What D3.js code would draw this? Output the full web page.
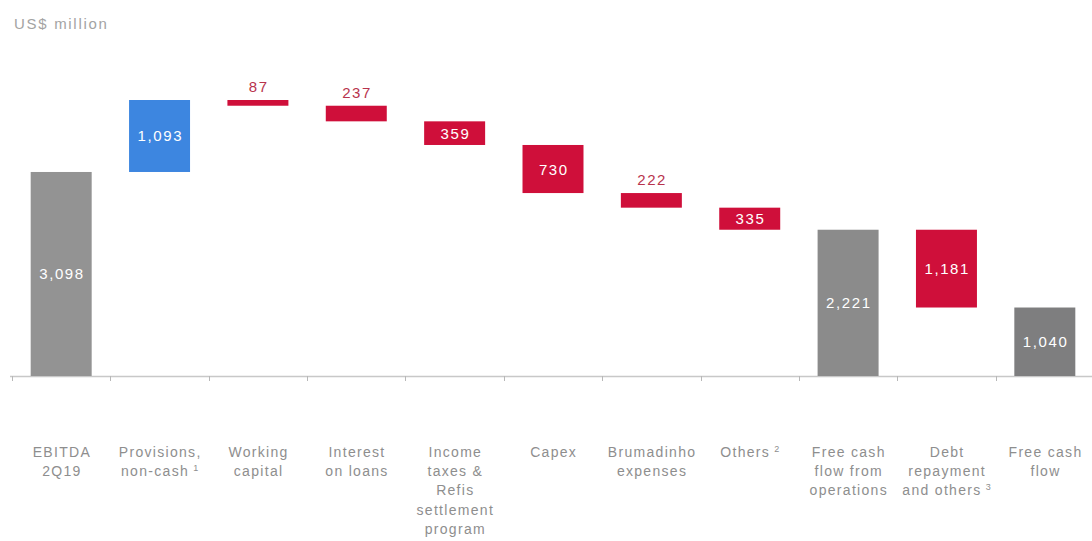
<!DOCTYPE html>
<html>
<head>
<meta charset="utf-8">
<script src="https://cdn.jsdelivr.net/npm/d3@7"></script>
<style>
  html, body { margin: 0; padding: 0; background: #fff; }
  svg { display: block; font-family: "Liberation Sans", Arial, sans-serif; }
</style>
</head>
<body>
<svg id="chart" width="1092" height="541"></svg>
<script>
// Cash flow bridge, US$ million
const categories = [
  ["EBITDA", "2Q19"],
  ["Provisions,", "non-cash|1"],
  ["Working", "capital"],
  ["Interest", "on loans"],
  ["Income", "taxes &", "Refis", "settlement", "program"],
  ["Capex"],
  ["Brumadinho", "expenses"],
  ["Others|2"],
  ["Free cash", "flow from", "operations"],
  ["Debt", "repayment", "and others|3"],
  ["Free cash", "flow"]
];
// kind: total = bar from zero, up = increase, down = decrease
const kinds  = ["total", "up", "down", "down", "down", "down", "down", "down", "total", "down", "total"];
const values = [3098, 1093, 87, 237, 359, 730, 222, 335, 2221, 1181, 1040];
const unitLabel = "US$ million";

const colors = { up: "#3d86e0", down: "#cf0f3a" };
const totalColors = ["#939393", "#8b8b8b", "#7e7e7f"];

const svg = d3.select("#chart");
const width = 1092;
const axisY = 376;

const x = d3.scaleBand()
  .domain(d3.range(categories.length))
  .range([12, 1094])
  .paddingInner(0.38)
  .paddingOuter(0.19);

const y = d3.scaleLinear().domain([0, 4191]).range([axisY, 100]);

// running totals to position each floating bar
let run = 0, totalIdx = 0;
const bars = values.map((v, i) => {
  let lo, hi, fill;
  if (kinds[i] === "total") {
    lo = 0; hi = v; run = v; fill = totalColors[totalIdx++];
  } else if (kinds[i] === "up") {
    lo = run; hi = run + v; run = hi; fill = colors.up;
  } else {
    hi = run; lo = run - v; run = lo; fill = colors.down;
  }
  return { i, v, lo, hi, fill };
});

svg.append("text")
  .attr("x", 14).attr("y", 29)
  .attr("fill", "#a3a3a3")
  .attr("font-size", 15)
  .attr("letter-spacing", 1.7)
  .text(unitLabel);

// baseline axis with separators between categories
const step = x.step();
const x0 = x.range()[0];
const tickXs = d3.range(categories.length + 1).map(k => x0 + k * step);
svg.append("line")
  .attr("x1", 10).attr("x2", width)
  .attr("y1", axisY + 0.5).attr("y2", axisY + 0.5)
  .attr("stroke", "#c8c8c8").attr("stroke-width", 1.5);
svg.selectAll("line.tick").data(tickXs).join("line")
  .attr("class", "tick")
  .attr("x1", d => Math.round(d) + 0.5).attr("x2", d => Math.round(d) + 0.5)
  .attr("y1", axisY).attr("y2", axisY + 5)
  .attr("stroke", "#b8b8b8").attr("stroke-width", 1);

// bars
svg.selectAll("rect.bar").data(bars).join("rect")
  .attr("class", "bar")
  .attr("x", d => x(d.i))
  .attr("width", x.bandwidth())
  .attr("y", d => y(d.hi))
  .attr("height", d => y(d.lo) - y(d.hi))
  .attr("fill", d => d.fill);

// value labels: inside if the bar is tall enough, otherwise above
const fmt = d3.format(",");
svg.selectAll("text.val").data(bars).join("text")
  .attr("class", "val")
  .attr("x", d => x(d.i) + x.bandwidth() / 2 + 0.8)
  .attr("text-anchor", "middle")
  .attr("font-size", 15)
  .attr("letter-spacing", 1.6)
  .each(function(d) {
    const h = y(d.lo) - y(d.hi);
    const t = d3.select(this);
    if (h < 20) {
      t.attr("y", y(d.hi) - 8).attr("fill", "#b8334d");
    } else {
      t.attr("y", (y(d.lo) + y(d.hi)) / 2 + 5.5).attr("fill", "#ffffff");
    }
  })
  .text(d => fmt(d.v));

// category labels (with superscript footnote markers)
const catG = svg.append("g");
categories.forEach((lines, i) => {
  const cx = x(i) + x.bandwidth() / 2 + 0.7;
  const t = catG.append("text")
    .attr("x", cx)
    .attr("y", 457)
    .attr("text-anchor", "middle")
    .attr("font-size", 14)
    .attr("letter-spacing", 1.3)
    .attr("fill", "#8e8e8e");
  lines.forEach((ln, j) => {
    const [main, sup] = ln.split("|");
    t.append("tspan")
      .attr("x", cx)
      .attr("dy", j === 0 ? 0 : 19.2)
      .text(main + (sup ? "\u2009" : ""));
    if (sup) {
      t.append("tspan")
        .attr("font-size", 9)
        .attr("baseline-shift", "super")
        .text(sup);
    }
  });
});
</script>
</body>
</html>
